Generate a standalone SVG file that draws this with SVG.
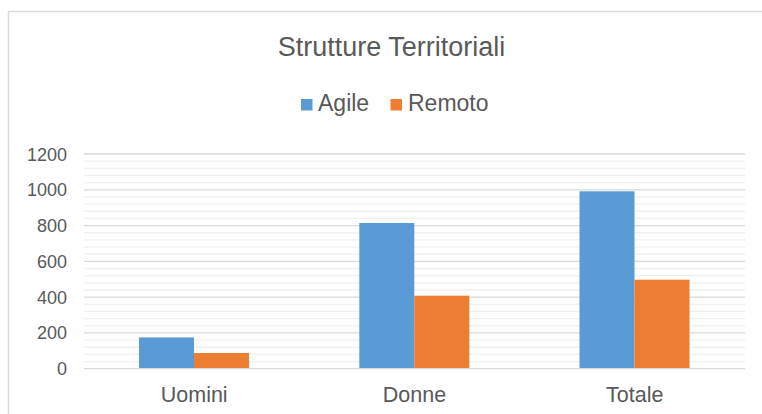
<svg xmlns="http://www.w3.org/2000/svg" width="762" height="414" viewBox="0 0 762 414">
  <style>
    .txt { font-family: "Liberation Sans", Arial, sans-serif; fill: #595959; }
    .title { font-size: 27px; text-anchor: middle; }
    .legend { font-size: 23px; }
    .ytick { font-size: 18px; text-anchor: end; }
    .xtick { font-size: 21.5px; text-anchor: middle; }
    .major { stroke: #d9d9d9; stroke-width: 1.3; }
    .minor { stroke: #f0f0f0; stroke-width: 1.3; }
    .agile { fill: #5b9bd5; }
    .remoto { fill: #ed7d31; }
  </style>

  <!-- chart area -->
  <rect x="0" y="0" width="762" height="414" fill="#ffffff"/>
  <rect x="8.5" y="11.5" width="770" height="420" fill="#ffffff" stroke="#d9d9d9" stroke-width="1.5"/>

  <g id="title">
    <text class="txt title" x="391.5" y="56">Strutture Territoriali</text>
  </g>

  <g id="legend">
    <rect class="agile" x="301" y="99" width="11.5" height="11.5"/>
    <text class="txt legend" x="318" y="111">Agile</text>
    <rect class="remoto" x="390.5" y="99" width="11.5" height="11.5"/>
    <text class="txt legend" x="408" y="111">Remoto</text>
  </g>

  <!-- minor gridlines: every 40 units (7.156 px) -->
  <g id="minor-grid">
    <path class="minor" d="M84 361.54H745 M84 354.39H745 M84 347.23H745 M84 340.07H745
      M84 325.76H745 M84 318.61H745 M84 311.45H745 M84 304.29H745
      M84 289.98H745 M84 282.83H745 M84 275.67H745 M84 268.51H745
      M84 254.20H745 M84 247.05H745 M84 239.89H745 M84 232.73H745
      M84 218.42H745 M84 211.27H745 M84 204.11H745 M84 196.95H745
      M84 182.64H745 M84 175.49H745 M84 168.33H745 M84 161.17H745"/>
  </g>

  <!-- major gridlines: every 200 units -->
  <g id="major-grid">
    <path class="major" d="M84 332.92H745 M84 297.14H745 M84 261.36H745 M84 225.58H745 M84 189.80H745 M84 154.02H745"/>
  </g>

  <g id="y-axis">
    <text class="txt ytick" x="67" y="375.2">0</text>
    <text class="txt ytick" x="67" y="339.4">200</text>
    <text class="txt ytick" x="67" y="303.6">400</text>
    <text class="txt ytick" x="67" y="267.9">600</text>
    <text class="txt ytick" x="67" y="232.1">800</text>
    <text class="txt ytick" x="67" y="196.3">1000</text>
    <text class="txt ytick" x="67" y="160.5">1200</text>
  </g>

  <g id="series-agile">
    <rect class="agile" x="139" y="337.4" width="55" height="31.3"/>
    <rect class="agile" x="359.3" y="223" width="55" height="145.7"/>
    <rect class="agile" x="579.5" y="191.3" width="55" height="177.4"/>
  </g>

  <g id="series-remoto">
    <rect class="remoto" x="194" y="353" width="55" height="15.7"/>
    <rect class="remoto" x="414.3" y="295.7" width="55" height="73"/>
    <rect class="remoto" x="634.5" y="279.7" width="55" height="89"/>
  </g>

  <!-- category axis -->
  <g id="x-axis">
    <path class="major" d="M84 368.70H745"/>
    <text class="txt xtick" x="194.2" y="401.7">Uomini</text>
    <text class="txt xtick" x="414.5" y="401.7">Donne</text>
    <text class="txt xtick" x="634.8" y="401.7">Totale</text>
  </g>
</svg>
